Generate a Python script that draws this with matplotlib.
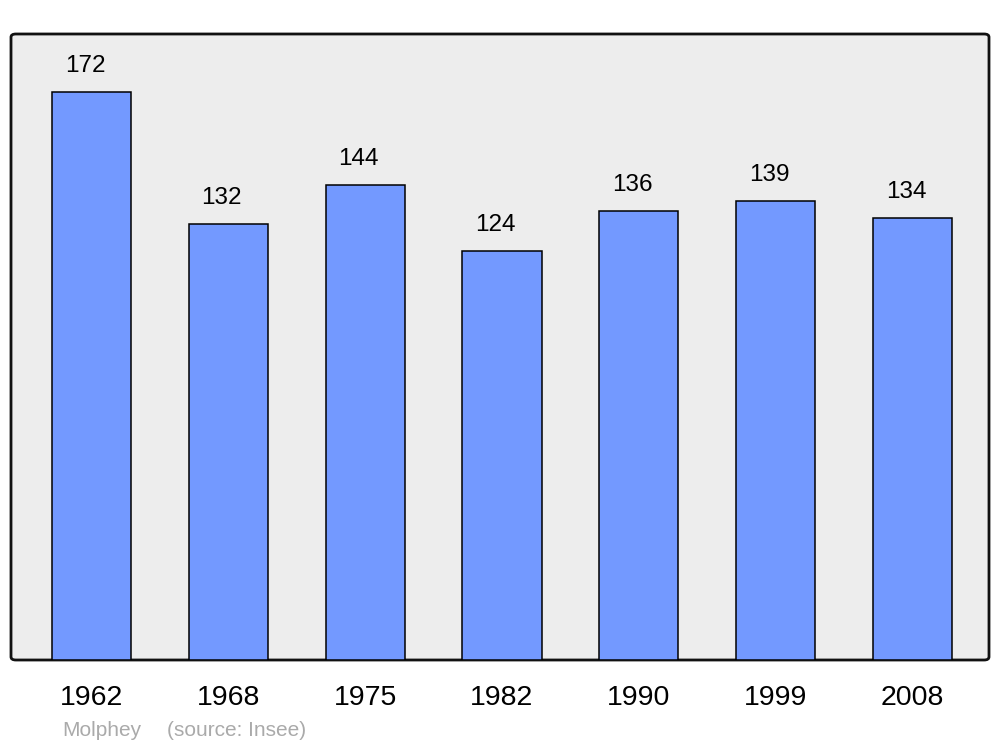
import matplotlib
matplotlib.use("Agg")
import matplotlib.pyplot as plt
from matplotlib.patches import FancyBboxPatch

years = ["1962", "1968", "1975", "1982", "1990", "1999", "2008"]
population = [172, 132, 144, 124, 136, 139, 134]

plt.rcParams['font.family'] = ['Liberation Sans', 'DejaVu Sans']

fig = plt.figure(figsize=(10, 7.47), dpi=100)
ax = fig.add_axes([11/1000, (747-660)/747, 978/1000, 626/747])
ax.patch.set_visible(False)
for s in ax.spines.values():
    s.set_visible(False)

frame = FancyBboxPatch((0, 0), 1, 1, boxstyle="round,pad=0,rounding_size=0.005",
                       transform=ax.transAxes, facecolor="#ededed",
                       edgecolor="#111111", linewidth=2.0, zorder=0, clip_on=False)
ax.add_patch(frame)

x = list(range(len(years)))
ax.bar(x, population, width=0.578, color="#7399ff", edgecolor="black",
       linewidth=1.1, zorder=2)
for xi, v in zip(x, population):
    ax.annotate(str(v), (xi, v), xytext=(-4.7, 18.5), textcoords="offset points",
                ha="center", va="center", fontsize=17.5, color="black")

ax.set_xlim(-0.588, 6.559)
ax.set_ylim(0, 189.6)
ax.set_yticks([])
ax.set_xticks(x)
ax.set_xticklabels(years, fontsize=20.5)
ax.tick_params(axis="x", length=0, pad=18)

fig.text(62/1000, 1 - 730/747, "Molphey", color="#aaaaaa", fontsize=15,
         ha="left", va="center")
fig.text(167/1000, 1 - 730/747, "(source: Insee)", color="#aaaaaa", fontsize=15,
         ha="left", va="center")

fig.savefig("out.png", dpi=100)
